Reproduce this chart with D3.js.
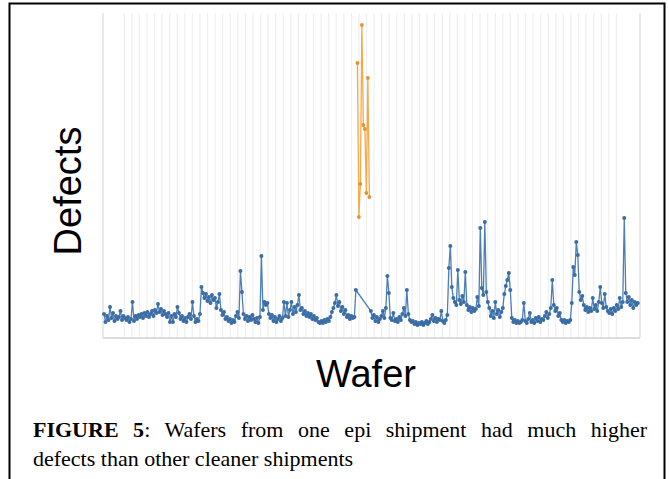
<!DOCTYPE html>
<html>
<head>
<meta charset="utf-8">
<script src="https://cdn.jsdelivr.net/npm/d3@7"></script>
<style>
  body { margin: 0; background: #fff; }
  #wrap { position: relative; width: 669px; height: 479px; overflow: hidden; }
  .cap {
    position: absolute; left: 33px; width: 614px; white-space: nowrap;
    font-family: "Liberation Serif", "Times New Roman", serif;
    font-size: 22px; line-height: 28px; color: #000;
  }
  .cap.first { top: 416px; text-align: justify; text-align-last: justify; white-space: normal; }
  .cap.second { top: 445px; text-align: left; }
</style>
</head>
<body>
<div id="wrap"></div>
<script>
// defects per wafer, clean shipments (wafers 0..168 and 178..356)
const blueStart1 = 0;
const blueDefects1 = [
  24,16,22,18,31,20,25,17,22,19, 21,27,18,22,20,18,21,16,19,36,
  17,22,19,23,21,24,20,25,22,26, 21,24,27,22,28,25,34,26,29,23,
  27,24,21,25,16,22,16,24,21,31, 25,19,22,17,20,16,21,24,19,36,
  22,16,19,17,24,51,45,40,44,37, 41,35,43,38,40,30,36,44,28,23,
  26,19,21,17,19,15,18,16,
  22,26,20,67,46,24,19,22,17,21, 18,23,19,16,20,15,21,82,28,36,
  33,35,24,20,23,17,21,16,19,22, 17,20,36,22,35,21,28,36,24,31,
  26,33,43,28,30,24,27,22,25,21, 24,19,22,18,20,16,15,17,15,18,
  16,19,17,21,26,30,35,43,32,36, 27,31,24,28,21,23,19,22,20,21,
  48
];
const blueStart2 = 178;
const blueDefects2 = [
  27,20,23,17,21,16,19,22,27,20, 30,62,45,20,18,25,17,19,16,21,
  18,24,30,22,48,24,18,16,17,14, 16,13,15,14,16,13,15,17,14,16,
  19,23,17,20,16,19,18,27,17,15, 18,23,70,92,51,40,36,33,68,38,
  34,42,36,66,33,28,31,26,30,27, 29,41,32,110,50,43,116,46,36,30,
  22,27,20,36,24,28,21,26,30,44,
  52,58,65,48,20,16,18,15,17,15, 16,18,35,17,15,19,25,16,18,15,
  20,17,21,16,19,18,22,26,20,24, 30,58,33,27,30,22,25,18,16,18,
  15,17,16,18,35,71,63,96,83,46, 38,42,33,28,31,26,30,27,40,29,
  33,27,36,51,35,30,44,31,27,25, 29,24,30,27,33,29,40,31,36,120,
  45,36,41,33,38,30,36,33,35
];
// one dirty epi shipment
const orangeStart = 169;
const orangeDefects = [275, 121, 154, 313, 213, 209, 145, 260, 141];

const xLabel = "Wafer";
const yLabel = "Defects";
const captionBold = "FIGURE 5";
const captionLine1 = ": Wafers from one epi shipment had much higher";
const captionLine2 = "defects than other cleaner shipments";

const toPoints = (start, vals) => vals.map((v, i) => ({ wafer: start + i, defects: v }));
const blue = toPoints(blueStart1, blueDefects1).concat(toPoints(blueStart2, blueDefects2));
const orange = toPoints(orangeStart, orangeDefects);

const wrap = d3.select("#wrap");
const svg = wrap.append("svg")
  .attr("width", 669)
  .attr("height", 479)
  .style("position", "absolute")
  .style("left", 0)
  .style("top", 0);

const plot = { left: 103, right: 640, top: 13, bottom: 338 };

const x = d3.scaleLinear().domain([0, 357.5]).range([104, 640]);
const y = d3.scaleLinear().domain([0, 325]).range([plot.bottom, plot.top]);

// outer frame
svg.append("rect")
  .attr("x", 9.5).attr("y", 3.5)
  .attr("width", 655).attr("height", 500)
  .attr("fill", "none")
  .attr("stroke", "#000")
  .attr("stroke-width", 2);

// vertical gridlines
const gridTicks = d3.range(66).map(k => 13.5 + k * 5.05);
svg.append("g")
  .selectAll("line")
  .data(gridTicks)
  .join("line")
  .attr("x1", d => x(d)).attr("x2", d => x(d))
  .attr("y1", plot.top).attr("y2", plot.bottom)
  .attr("stroke", "#efefef")
  .attr("stroke-width", 1.2);

// plot frame lines
svg.append("line")
  .attr("x1", plot.left).attr("x2", plot.left)
  .attr("y1", plot.top).attr("y2", plot.bottom)
  .attr("stroke", "#e2e2e2").attr("stroke-width", 1.5);
svg.append("line")
  .attr("x1", plot.right).attr("x2", plot.right)
  .attr("y1", plot.top).attr("y2", plot.bottom)
  .attr("stroke", "#e2e2e2").attr("stroke-width", 1.5);
svg.append("line")
  .attr("x1", plot.left).attr("x2", plot.right)
  .attr("y1", plot.bottom).attr("y2", plot.bottom)
  .attr("stroke", "#dcdcdc").attr("stroke-width", 2);

const line = d3.line()
  .x(d => x(d.wafer))
  .y(d => y(d.defects));

// clean shipments
svg.append("path")
  .datum(blue)
  .attr("fill", "none")
  .attr("stroke", "#4d7fb7")
  .attr("stroke-width", 1.3)
  .attr("d", line);

svg.append("g")
  .selectAll("circle")
  .data(blue)
  .join("circle")
  .attr("cx", d => x(d.wafer))
  .attr("cy", d => y(d.defects))
  .attr("r", 2)
  .attr("fill", "#3b6da5");

// dirty shipment
svg.append("path")
  .datum(orange)
  .attr("fill", "none")
  .attr("stroke", "#f5aa4a")
  .attr("stroke-width", 1.3)
  .attr("d", line);

svg.append("g")
  .selectAll("circle")
  .data(orange)
  .join("circle")
  .attr("cx", d => x(d.wafer))
  .attr("cy", d => y(d.defects))
  .attr("r", 1.9)
  .attr("fill", "#e8922f");

// axis titles
svg.append("text")
  .attr("transform", "translate(81,191) rotate(-90)")
  .attr("text-anchor", "middle")
  .attr("font-family", "Liberation Sans, Arial, sans-serif")
  .attr("font-size", "38px")
  .attr("fill", "#000")
  .text(yLabel);

svg.append("text")
  .attr("x", 366)
  .attr("y", 387)
  .attr("text-anchor", "middle")
  .attr("font-family", "Liberation Sans, Arial, sans-serif")
  .attr("font-size", "38px")
  .attr("fill", "#000")
  .text(xLabel);

// caption, first line justified to full width
const c1 = wrap.append("div").attr("class", "cap first");
c1.append("b").text(captionBold);
c1.append("span").text(captionLine1);
wrap.append("div").attr("class", "cap second").text(captionLine2);
</script>
</body>
</html>
